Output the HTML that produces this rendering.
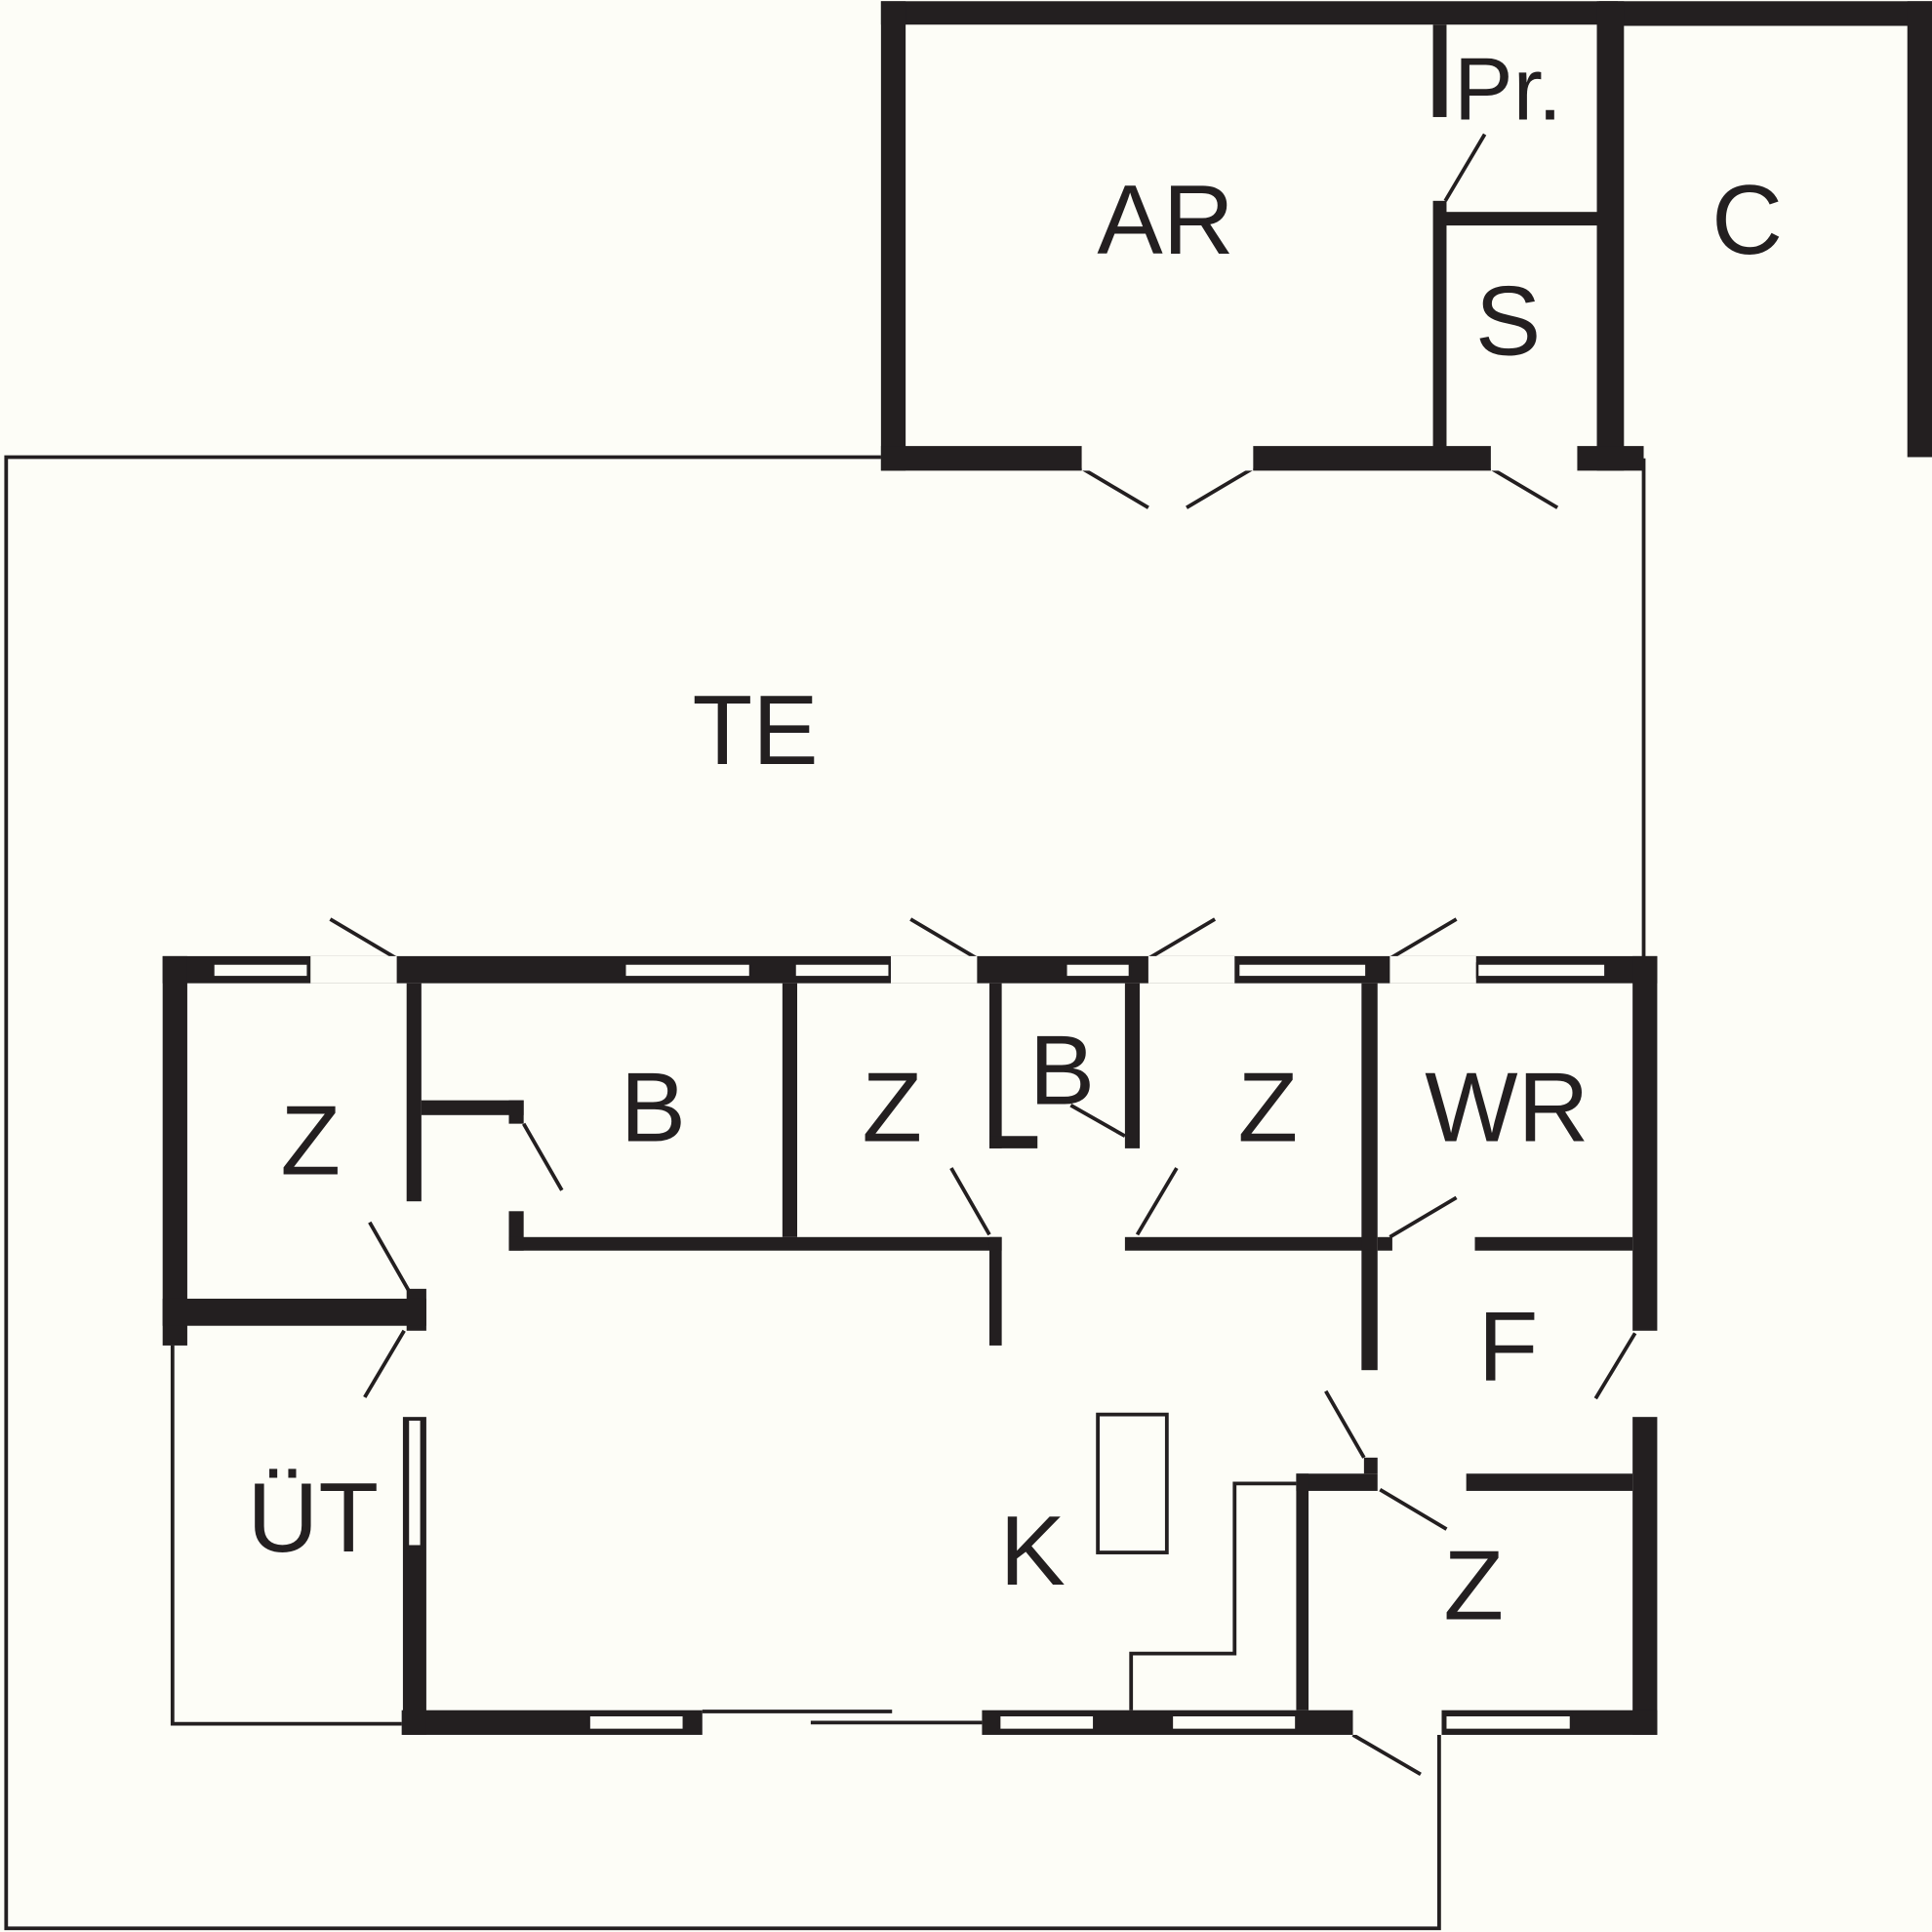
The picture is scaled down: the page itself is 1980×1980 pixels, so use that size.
<!DOCTYPE html>
<html><head><style>html,body{margin:0;padding:0;background:#fdfdf7}svg{display:block}</style></head>
<body>
<svg width="1980" height="1980" viewBox="0 0 1568 1568" xmlns="http://www.w3.org/2000/svg">
<rect width="1568" height="1568" fill="#fdfdf7"/>
<g fill="none" stroke="#231f20" stroke-width="3">
<!-- TE outline -->
<polyline points="715,371 5,371 5,1565 1168,1565 1168,1408"/>
<line x1="1334" y1="372" x2="1334" y2="778"/>
<!-- UT outline -->
<polyline points="140,1092 140,1399 326,1399"/>
<!-- stair -->
<polyline points="1052,1204 1002,1204 1002,1342 918,1342 918,1388"/>
<rect x="891" y="1148" width="56" height="112"/>
<!-- sliding door -->
<line x1="570" y1="1389" x2="724" y2="1389"/>
<line x1="658" y1="1398" x2="797" y2="1398"/>
<!-- door swings -->
<line x1="878" y1="380" x2="932" y2="412"/>
<line x1="1017" y1="380" x2="963" y2="412"/>
<line x1="1210" y1="380" x2="1264" y2="412"/>
<line x1="1173" y1="163" x2="1205" y2="109"/>
<line x1="322" y1="778" x2="268" y2="746"/>
<line x1="793" y1="778" x2="739" y2="746"/>
<line x1="932" y1="778" x2="986" y2="746"/>
<line x1="1128" y1="778" x2="1182" y2="746"/>
<line x1="425" y1="912" x2="456" y2="966"/>
<line x1="803" y1="1002" x2="772" y2="948"/>
<line x1="869" y1="897" x2="913" y2="922"/>
<line x1="923" y1="1002" x2="955" y2="948"/>
<line x1="1128" y1="1004" x2="1182" y2="972"/>
<line x1="332" y1="1048" x2="300" y2="992"/>
<line x1="328" y1="1080" x2="296" y2="1134"/>
<line x1="1107" y1="1183" x2="1076" y2="1129"/>
<line x1="1327" y1="1082" x2="1295" y2="1135"/>
<line x1="1120" y1="1209" x2="1174" y2="1241"/>
<line x1="1098" y1="1408" x2="1153" y2="1440"/>
</g>
<g fill="#231f20">
<!-- top building -->
<rect x="715" y="1" width="598" height="19"/>
<rect x="1298" y="1" width="270" height="20"/>
<rect x="715" y="1" width="20" height="381"/>
<rect x="1548" y="1" width="20" height="370"/>
<rect x="1296" y="1" width="22" height="381"/>
<rect x="715" y="362" width="163" height="20"/>
<rect x="1017" y="362" width="193" height="20"/>
<rect x="1280" y="362" width="54" height="20"/>
<rect x="1163" y="20" width="11" height="75"/>
<rect x="1163" y="163" width="11" height="200"/>
<rect x="1173" y="172" width="125" height="11"/>
<!-- main house outer -->
<rect x="132" y="776" width="1213" height="22"/>
<rect x="132" y="776" width="20" height="316"/>
<rect x="1325" y="776" width="20" height="304"/>
<rect x="1325" y="1150" width="20" height="258"/>
<rect x="326" y="1388" width="244" height="20"/>
<rect x="797" y="1388" width="301" height="20"/>
<rect x="1170" y="1388" width="175" height="20"/>
<!-- interior -->
<rect x="330" y="798" width="12" height="177"/>
<rect x="330" y="1046" width="16" height="34"/>
<rect x="327" y="1150" width="19" height="258"/>
<rect x="132" y="1054" width="214" height="22"/>
<rect x="342" y="893" width="83" height="12"/>
<rect x="413" y="893" width="12" height="19"/>
<rect x="413" y="983" width="12" height="32"/>
<rect x="413" y="1004" width="400" height="11"/>
<rect x="635" y="798" width="12" height="206"/>
<rect x="803" y="798" width="10" height="134"/>
<rect x="803" y="922" width="39" height="10"/>
<rect x="803" y="1004" width="10" height="88"/>
<rect x="913" y="798" width="12" height="134"/>
<rect x="913" y="1004" width="197" height="11"/>
<rect x="1105" y="798" width="13" height="314"/>
<rect x="1118" y="1004" width="12" height="11"/>
<rect x="1197" y="1004" width="128" height="11"/>
<rect x="1107" y="1183" width="11" height="13"/>
<rect x="1052" y="1196" width="66" height="14"/>
<rect x="1190" y="1196" width="135" height="14"/>
<rect x="1052" y="1196" width="10" height="192"/>
</g>
<!-- door gaps and windows -->
<g fill="#fdfdf7">
<rect x="878" y="362" width="139" height="20"/>
<rect x="1210" y="362" width="70" height="20"/>
<rect x="252" y="776" width="70" height="22"/>
<rect x="723" y="776" width="70" height="22"/>
<rect x="932" y="776" width="70" height="22"/>
<rect x="1128" y="776" width="70" height="22"/>
<rect x="1098" y="1388" width="72" height="20"/>
</g>
<g fill="#fdfdf7" stroke="#231f20" stroke-width="2">
<rect x="173" y="782" width="77" height="11"/>
<rect x="507" y="782" width="102" height="11"/>
<rect x="645" y="782" width="77" height="11"/>
<rect x="865" y="782" width="52" height="11"/>
<rect x="1005" y="782" width="104" height="11"/>
<rect x="1199" y="782" width="104" height="11"/>
<rect x="478" y="1392" width="77" height="12"/>
<rect x="811" y="1392" width="77" height="12"/>
<rect x="951" y="1392" width="101" height="12"/>
<rect x="1173" y="1392" width="102" height="12"/>
<rect x="331" y="1152" width="11" height="103"/>
</g>
<g font-family="Liberation Sans, sans-serif" font-size="80" fill="#231f20" text-anchor="middle">
<text x="946" y="206">AR</text>
<text x="1224" y="97" font-size="72">Pr.</text>
<text x="1418" y="206">C</text>
<text x="1224" y="288">S</text>
<text x="613" y="620">TE</text>
<text x="252" y="953">Z</text>
<text x="530" y="926">B</text>
<text x="724" y="926">Z</text>
<text x="862" y="896">B</text>
<text x="1029" y="926">Z</text>
<text x="1223" y="926">WR</text>
<text x="1224" y="1120">F</text>
<text x="254" y="1259">ÜT</text>
<text x="838" y="1286">K</text>
<text x="1196" y="1314">Z</text>
</g>
</svg>
</body></html>
